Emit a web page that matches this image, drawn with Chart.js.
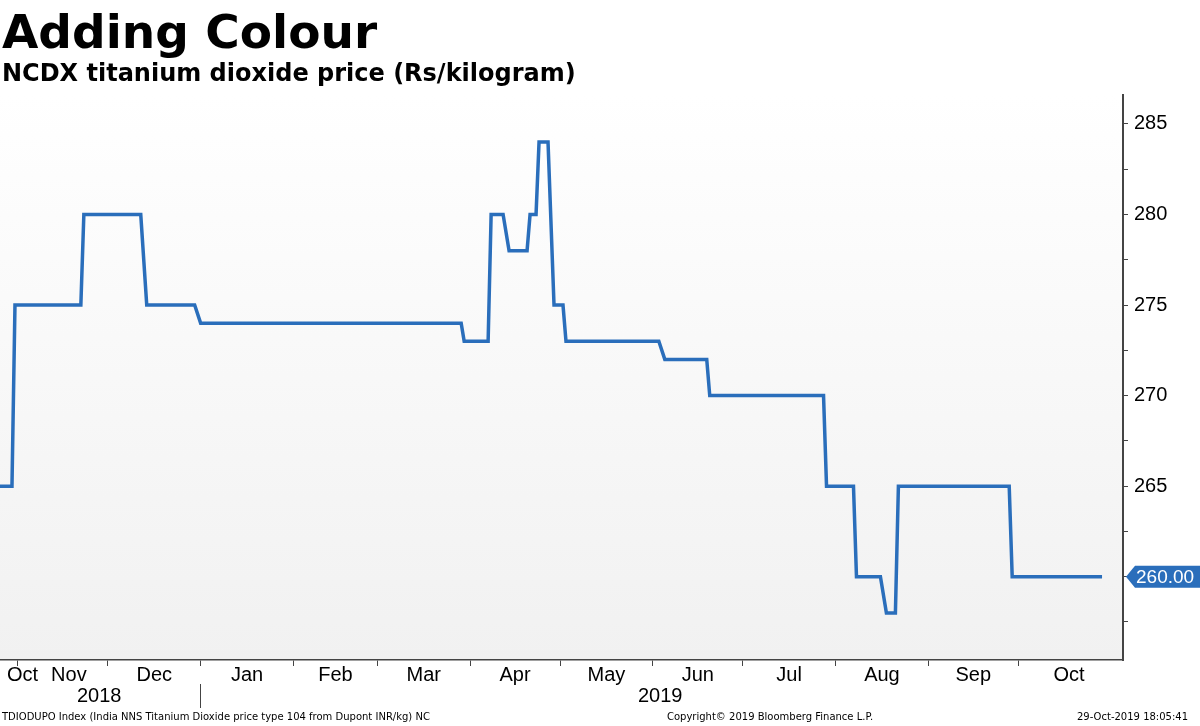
<html>
<head>
<script src="https://cdn.jsdelivr.net/npm/chart.js@4.4.0/dist/chart.umd.min.js"></script>
<style>
  body { margin:0; background:#fff; font-family:"DejaVu Sans", sans-serif; }
  #wrap { position:relative; width:1200px; height:726px; overflow:hidden; }
  #myChart { position:absolute; left:0; top:0; }
  .t { position:absolute; white-space:nowrap; color:#000; }
</style>
</head>
<body>
<div id="wrap">
  <canvas id="myChart" width="1200" height="726"></canvas>
  <div class="t" style="left:2px;top:4px;font-size:47px;font-weight:bold;">Adding Colour</div>
  <div class="t" style="left:2px;top:59px;font-size:24px;font-weight:bold;">NCDX titanium dioxide price (Rs/kilogram)</div>
  <div class="t" style="left:77px;top:684px;font-family:'Liberation Sans';font-size:20px;">2018</div>
  <div class="t" style="left:638px;top:684px;font-family:'Liberation Sans';font-size:20px;">2019</div>
  <div style="position:absolute;left:200px;top:684px;width:1px;height:24px;background:#444;"></div>
  <div class="t" style="left:2px;top:711px;font-size:10px;">TDIODUPO Index (India NNS Titanium Dioxide price type 104 from Dupont INR/kg) NC</div>
  <div class="t" style="left:667px;top:711px;font-size:10px;">Copyright© 2019 Bloomberg Finance L.P.</div>
  <div class="t" style="left:1077px;top:711px;font-size:10px;">29-Oct-2019 18:05:41</div>
</div>
<script>
// day 0 = 26-Oct-2018
var days   = [0,4,5,27,28,47,49,65,67,154,155,163,164,168,170,176,177,179,180,183,185,188,189,220,222,236,237,275,276,285,286,294,296,299,300,337,338,368];
var prices = [265,265,275,275,280,280,275,275,274,274,273,273,280,280,278,278,280,280,284,284,275,275,273,273,272,272,270,270,265,265,260,260,258,258,265,265,260,260];
var monthStarts = [6,36,67,98,126,157,187,218,248,279,310,340,371];
var monthNames  = ['Nov','Dec','Jan','Feb','Mar','Apr','May','Jun','Jul','Aug','Sep','Oct'];
var lastValue = 260;

var points = days.map(function (d, i) { return {x: d, y: prices[i]}; });

var labelAt = {};
labelAt[7.5] = 'Oct';
for (var i = 0; i < monthNames.length; i++) {
  var mid = (monthStarts[i] + Math.min(monthStarts[i + 1], 373)) / 2;
  if (i == 0) mid = 23;
  if (i == monthNames.length - 1) mid = 357;
  labelAt[mid] = monthNames[i];
}

var bgPlugin = {
  id: 'bg',
  beforeDraw: function (chart) {
    var c = chart.ctx, a = chart.chartArea;
    var g = c.createLinearGradient(0, a.top, 0, a.bottom);
    g.addColorStop(0, '#ffffff');
    g.addColorStop(1, '#f1f1f1');
    c.fillStyle = g;
    c.fillRect(a.left, a.top, a.right - a.left, a.bottom - a.top);
  },
  afterDraw: function (chart) {
    var c = chart.ctx, y = chart.scales.y.getPixelForValue(lastValue);
    var x = chart.chartArea.right + 3;
    c.fillStyle = '#2a6ebb';
    c.beginPath();
    c.moveTo(x, y);
    c.lineTo(x + 9, y - 11);
    c.lineTo(1200, y - 11);
    c.lineTo(1200, y + 11);
    c.lineTo(x + 9, y + 11);
    c.closePath();
    c.fill();
    c.fillStyle = '#fff';
    c.font = '19px "Liberation Sans"';
    c.textBaseline = 'middle';
    c.fillText(lastValue.toFixed(2), x + 10, y + 1);
  }
};

new Chart(document.getElementById('myChart'), {
  type: 'line',
  data: {
    datasets: [{
      data: points,
      borderColor: '#2a6ebb',
      borderWidth: 3.5,
      pointRadius: 0,
      tension: 0,
      fill: false
    }]
  },
  options: {
    responsive: false,
    animation: false,
    layout: { padding: { top: 95, bottom: 36, left: 0, right: 0 } },
    plugins: { legend: { display: false }, tooltip: { enabled: false } },
    scales: {
      x: {
        type: 'linear', min: 0, max: 375,
        afterBuildTicks: function (s) {
          var t = monthStarts.slice(0, 12).map(function (v) { return {value: v}; });
          Object.keys(labelAt).forEach(function (k) { t.push({value: +k, label: true}); });
          s.ticks = t;
        },
        afterFit: function (s) { s.height = 30; },
        ticks: {
          autoSkip: false, maxRotation: 0, padding: -3, color: '#000',
          font: { family: 'Liberation Sans', size: 20 },
          callback: function (v) { return labelAt[v] || ''; }
        },
        grid: {
          drawOnChartArea: false, tickLength: 6,
          tickColor: function (ctx) { return labelAt[ctx.tick.value] ? 'rgba(0,0,0,0)' : '#444'; }
        },
        border: { color: '#444', width: 1.5 }
      },
      y: {
        position: 'right', min: 255.4, max: 286.6,
        afterBuildTicks: function (s) {
          var t = [];
          for (var v = 257.5; v <= 285; v += 2.5) t.push({value: v});
          s.ticks = t;
        },
        afterFit: function (s) { s.width = 77; },
        ticks: {
          color: '#000', padding: 6,
          font: { family: 'Liberation Sans', size: 20 },
          callback: function (v) { return v % 5 == 0 ? v : ''; }
        },
        grid: { drawOnChartArea: false, tickLength: 5, tickColor: '#444' },
        border: { color: '#444', width: 2 }
      }
    }
  },
  plugins: [bgPlugin]
});
</script>
</body>
</html>
